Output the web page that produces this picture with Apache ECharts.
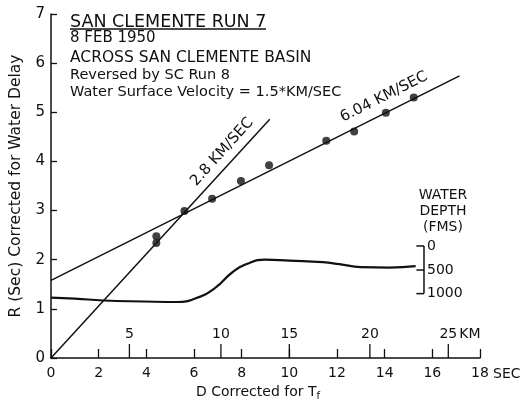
<!DOCTYPE html>
<html>
<head>
<meta charset="utf-8">
<script src="https://cdn.jsdelivr.net/npm/echarts@6/dist/echarts.min.js"></script>
<style>html,body{margin:0;padding:0;background:#fff;}#c{width:527px;height:402px;}</style>
</head>
<body>
<div id="c"></div>
<script>
// ---- data ----
var secTicks = [0, 2, 4, 6, 8, 10, 12, 14, 16, 18];
var rTicks = [0, 1, 2, 3, 4, 5, 6, 7];
var kmLabels = [5, 10, 15, 20, 25];
var kmSecPos = [3.29, 7.13, 10.0, 13.38, 16.67];
var pointsX = [4.42, 4.42, 5.6, 6.76, 7.97, 9.15, 11.55, 12.72, 14.05, 15.22];
var pointsY = [2.48, 2.34, 2.99, 3.24, 3.6, 3.92, 4.42, 4.61, 4.99, 5.30];
var line28X = [0, 9.18];
var line28Y = [0, 4.86];
var line604X = [0, 17.14];
var line604Y = [1.58, 5.74];
var waterX = [0, 1.0, 2.2, 3.9, 5.3, 6.1, 6.9, 7.6, 8.3, 9.0, 10.0, 11.4, 12.1, 13.0, 14.2, 15.3];
var waterY = [1.23, 1.21, 1.17, 1.15, 1.14, 1.22, 1.43, 1.74, 1.93, 2.0, 1.98, 1.95, 1.91, 1.85, 1.84, 1.87];
var depthLabels = ['0', '500', '1000'];
var depthY = [2.28, 1.79, 1.31];
var depthBracketX = 15.65;
var depthTickX = 15.33;

function zip(a, b) { return a.map(function (v, i) { return [v, b[i]]; }); }

var FONT = 'DejaVu Sans';
var chart = echarts.init(document.getElementById('c'));

var option = {
  animation: false,
  backgroundColor: '#fff',
  grid: { left: 47, right: 47, top: 14, bottom: 44 },
  xAxis: {
    type: 'value', min: 0, max: 18, interval: 2,
    axisLine: { lineStyle: { color: '#111', width: 1.5 } },
    axisTick: { inside: true, length: 9, lineStyle: { color: '#111', width: 1.3 } },
    axisLabel: { color: '#111', fontFamily: FONT, fontSize: 14, margin: 8 },
    splitLine: { show: false }
  },
  yAxis: {
    type: 'value', min: 0, max: 7, interval: 1,
    axisLine: { show: true, lineStyle: { color: '#111', width: 1.5 } },
    axisTick: { show: true, inside: true, length: 6, lineStyle: { color: '#111', width: 1.3 } },
    axisLabel: { color: '#111', fontFamily: FONT, fontSize: 15, margin: 6 },
    splitLine: { show: false },
    name: 'R (Sec) Corrected for Water Delay',
    nameLocation: 'middle', nameGap: 27,
    nameTextStyle: { color: '#111', fontFamily: FONT, fontSize: 15.5 }
  },
  series: [
    {
      type: 'line', data: zip(line28X, line28Y), symbol: 'none',
      lineStyle: { color: '#111', width: 1.5 }
    },
    {
      type: 'line', data: zip(line604X, line604Y), symbol: 'none',
      lineStyle: { color: '#111', width: 1.5 }
    },
    {
      type: 'line', data: zip(waterX, waterY), symbol: 'none', smooth: 0.5,
      lineStyle: { color: '#111', width: 2.2 }
    },
    {
      type: 'scatter', data: zip(pointsX, pointsY), symbol: 'circle', symbolSize: 8,
      itemStyle: { color: '#111' }
    },
    {
      type: 'custom',
      data: zip(kmSecPos, kmLabels),
      renderItem: function (params, api) {
        var p = api.coord([api.value(0), 0]);
        var lab = String(api.value(1));
        var children = [
          { type: 'line', shape: { x1: p[0], y1: p[1], x2: p[0], y2: p[1] - 14 },
            style: { stroke: '#111', lineWidth: 1.3 } },
          { type: 'text', style: { x: p[0], y: p[1] - 24, text: lab, textAlign: 'center',
            textVerticalAlign: 'middle', fill: '#111', font: '14px ' + FONT } }
        ];
        if (params.dataIndex === kmLabels.length - 1) {
          children.push({ type: 'text', style: { x: p[0] + 11, y: p[1] - 24, text: 'KM', textAlign: 'left',
            textVerticalAlign: 'middle', fill: '#111', font: '14px ' + FONT } });
        }
        return { type: 'group', children: children };
      }
    },
    {
      type: 'custom',
      data: zip(depthY, depthLabels.map(function (d, i) { return i; })),
      renderItem: function (params, api) {
        var i = params.dataIndex;
        var y = api.value(0);
        var pb = api.coord([depthBracketX, y]);
        var pt = api.coord([depthTickX, y]);
        var children = [
          { type: 'line', shape: { x1: pt[0], y1: pb[1], x2: pb[0], y2: pb[1] },
            style: { stroke: '#111', lineWidth: 1.5 } },
          { type: 'text', style: { x: pb[0] + 3, y: pb[1], text: depthLabels[i], textAlign: 'left',
            textVerticalAlign: 'middle', fill: '#111', font: '14px ' + FONT } }
        ];
        if (i < depthY.length - 1) {
          var pn = api.coord([depthBracketX, depthY[i + 1]]);
          children.push({ type: 'line', shape: { x1: pb[0], y1: pb[1], x2: pn[0], y2: pn[1] },
            style: { stroke: '#111', lineWidth: 1.5 } });
        }
        return { type: 'group', children: children };
      }
    }
  ],
  graphic: [
    { type: 'text', left: 70, top: 13, style: { text: 'SAN CLEMENTE RUN 7', fill: '#111', font: '17.5px ' + FONT } },
    { type: 'line', shape: { x1: 70, y1: 29, x2: 266, y2: 29 }, style: { stroke: '#111', lineWidth: 1.5 } },
    { type: 'text', left: 70, top: 31, style: { text: '8 FEB 1950', fill: '#111', font: '15px ' + FONT } },
    { type: 'text', left: 70, top: 50, style: { text: 'ACROSS SAN CLEMENTE BASIN', fill: '#111', font: '15.5px ' + FONT } },
    { type: 'text', left: 70, top: 68, style: { text: 'Reversed by SC Run 8', fill: '#111', font: '14.5px ' + FONT } },
    { type: 'text', left: 70, top: 85, style: { text: 'Water Surface Velocity = 1.5*KM/SEC', fill: '#111', font: '14.5px ' + FONT } },
    { type: 'text', x: 222, y: 152, rotation: 48 * Math.PI / 180,
      style: { text: '2.8 KM/SEC', fill: '#111', font: '15px ' + FONT, textAlign: 'center', textVerticalAlign: 'middle' } },
    { type: 'text', x: 384, y: 97, rotation: 26.6 * Math.PI / 180,
      style: { text: '6.04 KM/SEC', fill: '#111', font: '15px ' + FONT, textAlign: 'center', textVerticalAlign: 'middle' } },
    { type: 'text', x: 443, y: 195, style: { text: 'WATER', fill: '#111', font: '14px ' + FONT, textAlign: 'center', textVerticalAlign: 'middle' } },
    { type: 'text', x: 443, y: 211, style: { text: 'DEPTH', fill: '#111', font: '14px ' + FONT, textAlign: 'center', textVerticalAlign: 'middle' } },
    { type: 'text', x: 443, y: 227, style: { text: '(FMS)', fill: '#111', font: '14px ' + FONT, textAlign: 'center', textVerticalAlign: 'middle' } },
    { type: 'text', x: 493, y: 374, style: { text: 'SEC', fill: '#111', font: '14px ' + FONT, textAlign: 'left', textVerticalAlign: 'middle' } },
    { type: 'text', x: 258, y: 392, style: {
        text: 'D Corrected for T{s|f}', textAlign: 'center', textVerticalAlign: 'middle',
        fill: '#111', font: '14px ' + FONT,
        rich: { s: { fontSize: 10, fontFamily: FONT, fill: '#111', padding: [8, 0, 0, 0] } } } }
  ]
};
chart.setOption(option);
</script>
</body>
</html>
